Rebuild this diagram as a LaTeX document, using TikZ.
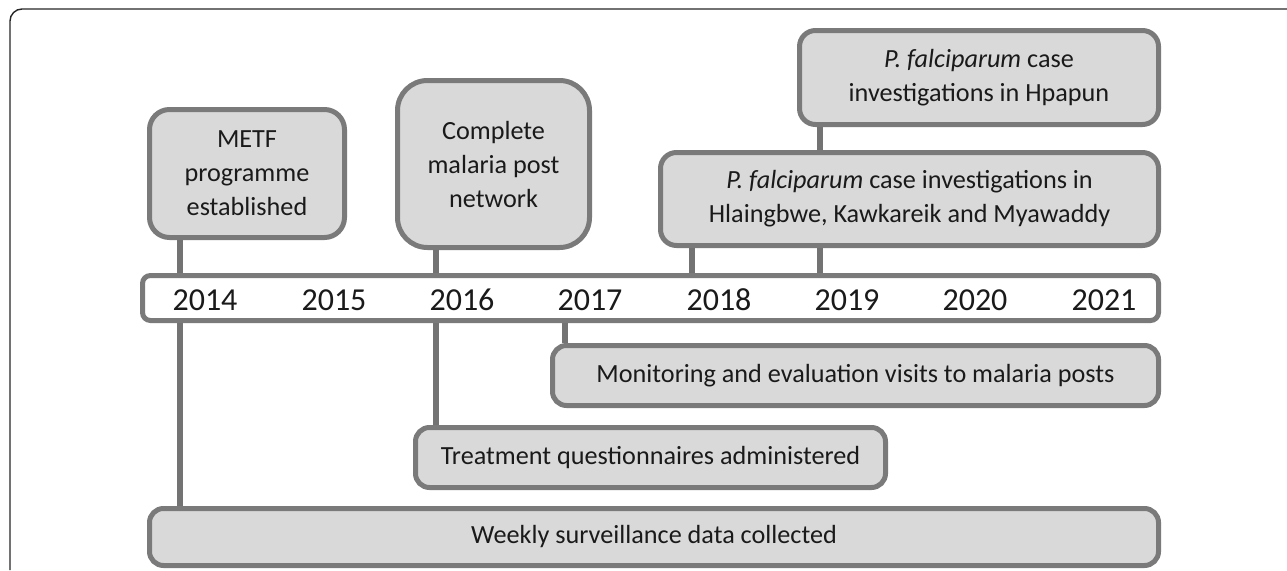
\documentclass[tikz,border=0pt]{standalone}
\usepackage{fontspec}
\setmainfont{Carlito}
\usetikzlibrary{backgrounds}
\definecolor{bordergray}{HTML}{7A7A7A}
\definecolor{boxfill}{HTML}{D9D9D9}
\definecolor{stemgray}{HTML}{737373}
\definecolor{txt}{HTML}{1A1A1A}
\begin{document}
\begin{tikzpicture}[x=1pt,y=-1pt,
  evbox/.style={draw=bordergray, line width=5pt, fill=boxfill, align=center,
    inner sep=0pt, text=txt, font=\fontsize{26.2}{34}\selectfont},
  barbox/.style={draw=bordergray, line width=5pt, fill=white, inner sep=0pt,
    rounded corners=8pt},
  yearlbl/.style={text=txt, font=\fontsize{32}{36}\selectfont, inner sep=0pt},
  stem/.style={draw=stemgray, line width=6pt}]
\useasboundingbox (0,0) rectangle (1287,570);
% outer frame (cropped)
\draw[line width=1.4pt, draw=black!85] (10,570) -- (10,21) arc[start angle=180, end angle=90, radius=12pt] -- (1287,9);

% guide coordinates for stems
\coordinate (s1) at (180,0);
\coordinate (s2) at (436,0);
\coordinate (s3) at (565,0);
\coordinate (s4) at (692,0);
\coordinate (s5) at (820,0);

% timeline
\node[barbox, minimum width=1016pt, minimum height=45pt] (bar) at (650.5,298) {};
\foreach \yr/\xx in {2014/205,2015/334,2016/462,2017/590,2018/719,2019/847,2020/975,2021/1104}
  \node[yearlbl] (y\yr) at (\xx,300) {\yr};

% event boxes above
\node[evbox, rounded corners=20pt, minimum width=195pt, minimum height=128pt] (metf) at (247,173.5)
  {METF\\programme\\established};
\node[evbox, rounded corners=30pt, minimum width=192pt, minimum height=167pt] (compl) at (493.5,164)
  {Complete\\malaria post\\network};
\node[evbox, rounded corners=16pt, minimum width=359pt, minimum height=94pt] (hpapun) at (979,77.5)
  {\textit{P. falciparum} case\\investigations in Hpapun};
\node[evbox, rounded corners=16pt, minimum width=498pt, minimum height=93pt] (hlaing) at (909.5,199)
  {\textit{P. falciparum} case investigations in\\Hlaingbwe, Kawkareik and Myawaddy};

% bars below
\node[evbox, rounded corners=14pt, minimum width=606pt, minimum height=60pt] (monit) at (855.5,375.5)
  {Monitoring and evaluation visits to malaria posts};
\node[evbox, rounded corners=14pt, minimum width=470pt, minimum height=60pt] (treat) at (650.5,457.5)
  {Treatment questionnaires administered};
\node[evbox, rounded corners=14pt, minimum width=1009pt, minimum height=57pt] (weekly) at (654,537)
  {Weekly surveillance data collected};

% stems
\begin{scope}[on background layer]
\draw[stem] (metf.south -| s1) -- (bar.north -| s1);
\draw[stem] (bar.south -| s1) -- (weekly.north -| s1);
\draw[stem] (compl.south -| s2) -- (bar.north -| s2);
\draw[stem] (bar.south -| s2) -- (treat.north -| s2);
\draw[stem] (bar.south -| s3) -- (monit.north -| s3);
\draw[stem] (hlaing.south -| s4) -- (bar.north -| s4);
\draw[stem] (hpapun.south -| s5) -- (hlaing.north -| s5);
\draw[stem] (hlaing.south -| s5) -- (bar.north -| s5);
\end{scope}
\end{tikzpicture}
\end{document}
